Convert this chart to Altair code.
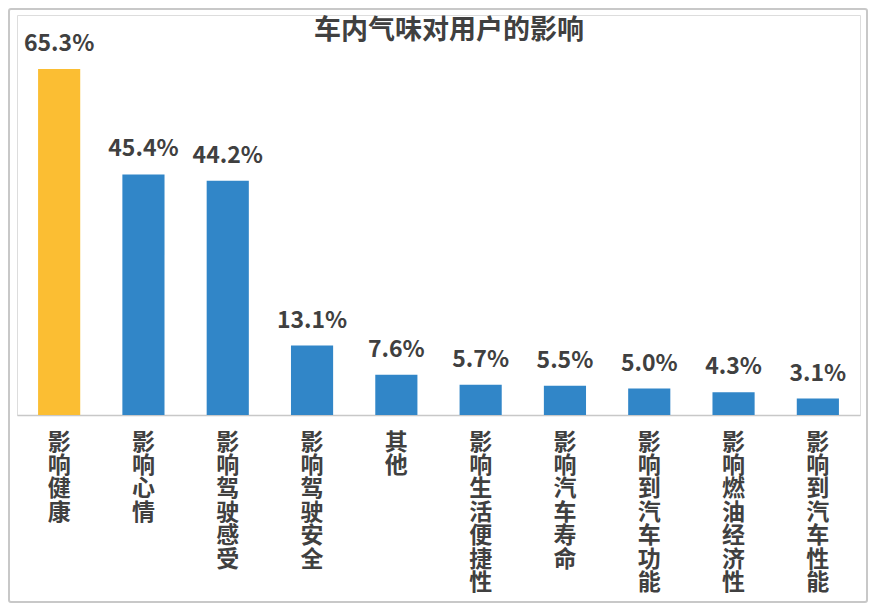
import altair as alt
import pandas as pd

title_text = "车内气味对用户的影响"
categories = ["影响健康", "影响心情", "影响驾驶感受", "影响驾驶安全", "其他",
              "影响生活便捷性", "影响汽车寿命", "影响到汽车功能", "影响燃油经济性", "影响到汽车性能"]
values = [65.3, 45.4, 44.2, 13.1, 7.6, 5.7, 5.5, 5.0, 4.3, 3.1]
labels = ["65.3%", "45.4%", "44.2%", "13.1%", "7.6%", "5.7%", "5.5%", "5.0%", "4.3%", "3.1%"]
bar_colors = ["#FBBE33"] + ["#3186C8"] * 9

df = pd.DataFrame({"cat": categories, "value": values, "label": labels})

FONT = "Noto Sans CJK SC"
TXT = "#404040"

x_enc = alt.X(
    "cat:N", sort=categories,
    scale=alt.Scale(paddingInner=0.5, paddingOuter=0.25),
    axis=alt.Axis(title=None, labelAngle=0, ticks=False, domainColor="#c8c8c8", domainWidth=1.5,
                  labelExpr="split(datum.label, '')", labelBaseline="top", labelPadding=16,
                  labelFont=FONT, labelFontSize=23, labelFontWeight="bold", labelColor=TXT,
                  labelLineHeight=23.4),
)
y_enc = alt.Y("value:Q", scale=alt.Scale(domain=[0, 75.5]), axis=None)

base = alt.Chart(df)
bars = base.mark_bar().encode(
    x=x_enc, y=y_enc,
    color=alt.Color("cat:N", scale=alt.Scale(domain=categories, range=bar_colors), legend=None),
)
texts = base.mark_text(dy=-18, baseline="alphabetic", font=FONT, fontSize=23,
                       fontWeight="bold", color=TXT).encode(x=x_enc, y=y_enc, text="label:N")

one = alt.Data(values=[{"t": title_text}])
title = alt.Chart(one).mark_text(font=FONT, fontSize=27, fontWeight="bold", color=TXT,
                                 baseline="alphabetic").encode(
    x=alt.value(432), y=alt.value(23.5), text="t:N")
border = alt.Chart(one).mark_rect(fill="transparent", stroke="#c8c8c8", strokeWidth=2,
                                  cornerRadius=2).encode(
    x=alt.value(-8), x2=alt.value(850), y=alt.value(-6), y2=alt.value(587))

chart = alt.layer(border, bars, texts, title).properties(
    width=843, height=400,
    autosize=alt.AutoSizeParams(type="none"),
    padding={"left": 9, "top": 7, "right": 8, "bottom": 188},
).configure_view(stroke=None).configure(background="white")

chart.save("out.html", embed_options={"renderer": "svg", "actions": False})
